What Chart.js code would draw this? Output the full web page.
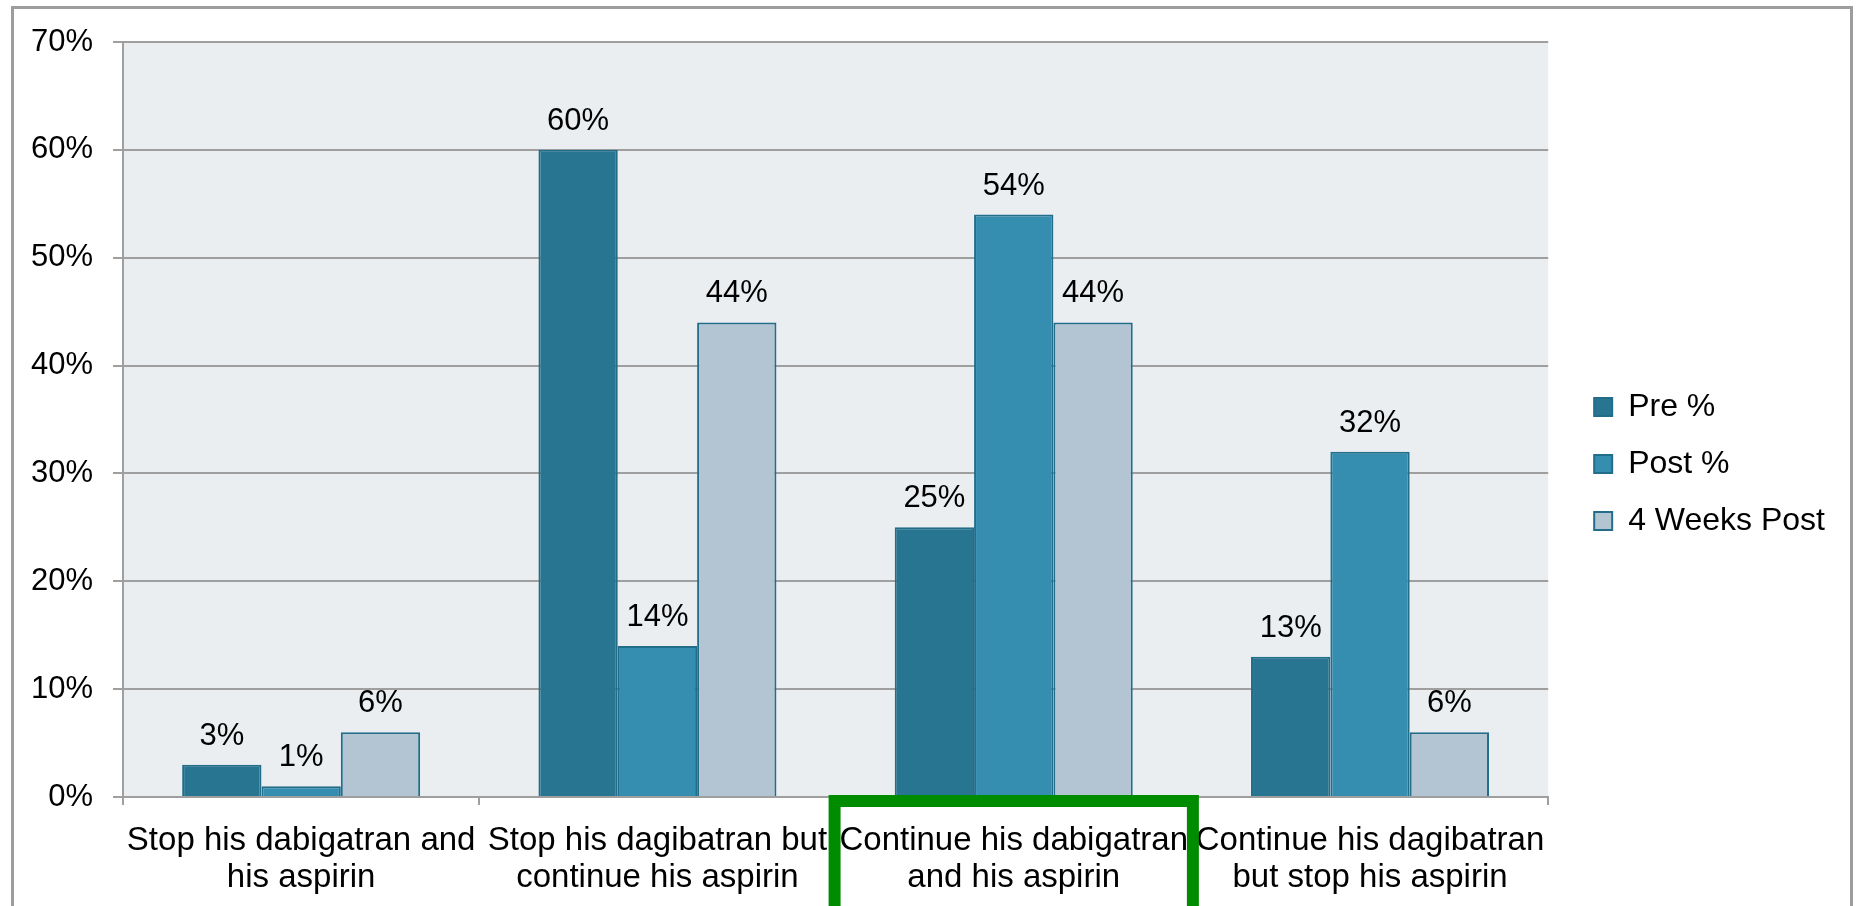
<!DOCTYPE html>
<html>
<head>
<meta charset="utf-8">
<title>Dabigatran and aspirin responses</title>
<script src="https://cdn.jsdelivr.net/npm/chart.js@4.4.1/dist/chart.umd.min.js"></script>
<style>
    html, body { margin: 0; padding: 0; background: #fff; }
    canvas { display: block; }
</style>
</head>
<body>
<canvas id="myChart" width="1856" height="906"></canvas>
<script>
const categories = [
    ['Stop his dabigatran and', 'his aspirin'],
    ['Stop his dagibatran but', 'continue his aspirin'],
    ['Continue his dabigatran', 'and his aspirin'],
    ['Continue his dagibatran', 'but stop his aspirin']
]
const seriesLabels = ['Pre %', 'Post %', '4 Weeks Post']
const preValues = [3, 60, 25, 13]
const postValues = [1, 14, 54, 32]
const weeksPostValues = [6, 44, 44, 6]
const yTicks = [0, 10, 20, 30, 40, 50, 60, 70]
const highlightedCategory = 2

const FONT = '"Liberation Sans", Arial, Helvetica, sans-serif'
const GRID = '#9f9f9f'

const ResponseChart = (function () {
    let _configMap = {
        chartPointer: '',
        chart: ''
    }

    // plot background and the outer frame
    const _backgroundPlugin = {
        id: 'background',
        beforeDraw: function (chart) {
            const ctx = chart.ctx
            const area = chart.chartArea
            ctx.save()
            ctx.fillStyle = '#eaeef1'
            ctx.fillRect(area.left, area.top, area.right - area.left, area.bottom - area.top)
            ctx.strokeStyle = '#9d9d9d'
            ctx.lineWidth = 3
            ctx.strokeRect(12.5, 7.5, 1839, 960)
            ctx.restore()
        }
    }

    // move the legend a bit right of the plot and a bit up
    const _legendShiftPlugin = {
        id: 'legendShift',
        afterLayout: function (chart) {
            chart.legend.left += 21
            chart.legend.right += 21
            chart.legend.top -= 10
            chart.legend.bottom -= 10
        }
    }

    // percentage above every bar
    const _valueLabelPlugin = {
        id: 'valueLabels',
        afterDatasetsDraw: function (chart) {
            const ctx = chart.ctx
            ctx.save()
            ctx.font = '31px ' + FONT
            ctx.fillStyle = '#000'
            ctx.textAlign = 'center'
            ctx.textBaseline = 'alphabetic'
            chart.data.datasets.forEach(function (dataset, i) {
                chart.getDatasetMeta(i).data.forEach(function (bar, j) {
                    ctx.fillText(dataset.data[j] + '%', bar.x, bar.y - 20)
                })
            })
            ctx.restore()
        }
    }

    // green box around the correct answer
    const _highlightPlugin = {
        id: 'highlight',
        afterDraw: function (chart) {
            const ctx = chart.ctx
            const xScale = chart.scales.x
            const center = xScale.getPixelForValue(highlightedCategory)
            const half = xScale.width / categories.length / 2 + 7
            ctx.save()
            ctx.strokeStyle = '#008c00'
            ctx.lineWidth = 12
            ctx.strokeRect(center - half + 6, chart.chartArea.bottom + 4, 2 * half - 12, 300)
            ctx.restore()
        }
    }

    const _makeDataset = function (label, data, color) {
        return {
            label: label,
            data: data,
            backgroundColor: color,
            borderColor: '#226d8a',
            borderWidth: 2,
            categoryPercentage: 0.668,
            barPercentage: 1.0
        }
    }

    const _init = function () {
        _configMap.chartPointer = document.getElementById('myChart').getContext('2d')

        _configMap.chart = new Chart(_configMap.chartPointer, {
            type: 'bar',
            data: {
                labels: categories,
                datasets: [
                    _makeDataset(seriesLabels[0], preValues, '#287591'),
                    _makeDataset(seriesLabels[1], postValues, '#358db0'),
                    _makeDataset(seriesLabels[2], weeksPostValues, '#b3c4d2')
                ]
            },
            options: {
                responsive: false,
                animation: false,
                events: [],
                layout: {
                    padding: { top: 42, right: 42, bottom: 0, left: 0 }
                },
                plugins: {
                    tooltip: { enabled: false },
                    legend: {
                        position: 'right',
                        align: 'center',
                        labels: {
                            boxWidth: 18,
                            boxHeight: 18,
                            padding: 25,
                            color: '#000',
                            font: { family: FONT, size: 32 }
                        }
                    }
                },
                scales: {
                    x: {
                        offset: true,
                        afterFit: function (scale) { scale.height = 109 },
                        grid: {
                            offset: true,
                            drawOnChartArea: false,
                            drawTicks: true,
                            tickLength: 8,
                            color: GRID,
                            lineWidth: 2
                        },
                        border: { display: true, color: GRID, width: 2 },
                        ticks: {
                            color: '#000',
                            padding: 17,
                            maxRotation: 0,
                            autoSkip: false,
                            font: { family: FONT, size: 33, lineHeight: 1.12 }
                        }
                    },
                    y: {
                        min: yTicks[0],
                        max: yTicks[yTicks.length - 1],
                        afterFit: function (scale) { scale.width = 123 },
                        grid: {
                            color: GRID,
                            lineWidth: 2,
                            tickLength: 10
                        },
                        border: { display: true, color: GRID, width: 2 },
                        ticks: {
                            stepSize: yTicks[1] - yTicks[0],
                            color: '#000',
                            padding: 20,
                            font: { family: FONT, size: 31 },
                            callback: function (value) { return value + '%' }
                        }
                    }
                }
            },
            plugins: [_backgroundPlugin, _legendShiftPlugin, _valueLabelPlugin, _highlightPlugin]
        })
    }

    return {
        init: _init
    }
})()

ResponseChart.init()
</script>
</body>
</html>
